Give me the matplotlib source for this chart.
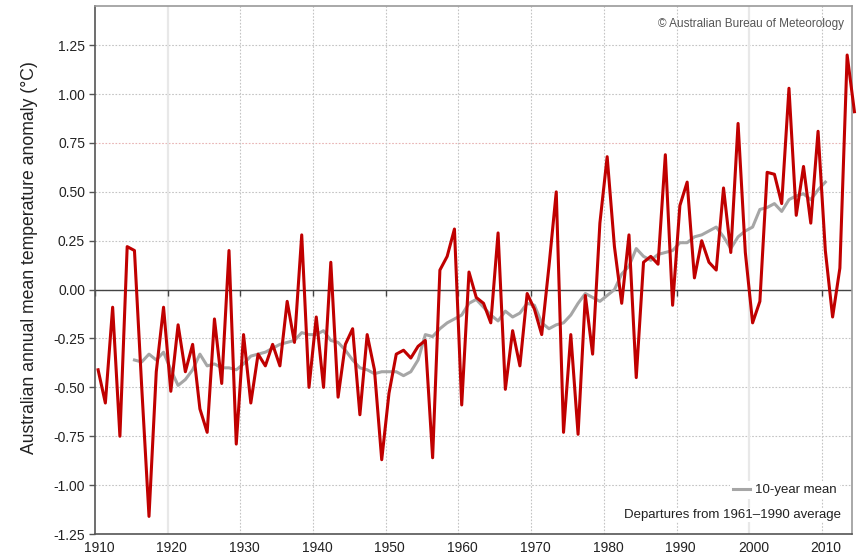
import numpy as np
import matplotlib
matplotlib.use('Agg')
import matplotlib.pyplot as plt
import matplotlib.transforms as mtransforms

plt.rcParams['font.family'] = ['Liberation Sans', 'DejaVu Sans']

# Annual anomaly, 1910-2014 (deg C, vs 1961-1990)
years = np.arange(1910, 2015)
anomaly = [
    -0.41, -0.58, -0.09, -0.75, 0.22, 0.20, -0.50, -1.16, -0.42, -0.09,   # 1910s
    -0.52, -0.18, -0.42, -0.28, -0.61, -0.73, -0.15, -0.48, 0.20, -0.79,  # 1920s
    -0.23, -0.58, -0.33, -0.39, -0.28, -0.39, -0.06, -0.27, 0.28, -0.50,  # 1930s
    -0.14, -0.50, 0.14, -0.55, -0.28, -0.20, -0.64, -0.23, -0.41, -0.87,  # 1940s
    -0.53, -0.33, -0.31, -0.35, -0.29, -0.26, -0.86, 0.10, 0.17, 0.31,   # 1950s
    -0.59, 0.09, -0.04, -0.07, -0.17, 0.29, -0.51, -0.21, -0.39, -0.02,   # 1960s
    -0.10, -0.23, 0.12, 0.50, -0.73, -0.23, -0.74, -0.03, -0.33, 0.34,   # 1970s
    0.68, 0.22, -0.07, 0.28, -0.45, 0.14, 0.17, 0.13, 0.69, -0.08,       # 1980s
    0.43, 0.55, 0.06, 0.25, 0.14, 0.10, 0.52, 0.19, 0.85, 0.19,          # 1990s
    -0.17, -0.06, 0.60, 0.59, 0.44, 1.03, 0.38, 0.63, 0.34, 0.81,        # 2000s
    0.20, -0.14, 0.11, 1.20, 0.91,                                       # 2010s
]

# 10-year running mean, centred, 1915-2010
mean_years = np.arange(1915, 2011)
mean10 = [
    -0.36, -0.37, -0.33, -0.36, -0.32,
    -0.41, -0.49, -0.46, -0.41, -0.33, -0.39, -0.38, -0.40, -0.40, -0.41,
    -0.38, -0.34, -0.33, -0.32, -0.30, -0.28, -0.27, -0.26, -0.22, -0.23,
    -0.23, -0.21, -0.26, -0.27, -0.31, -0.36, -0.40, -0.41, -0.43, -0.42,
    -0.42, -0.42, -0.44, -0.42, -0.36, -0.23, -0.24, -0.20, -0.17, -0.15,
    -0.13, -0.07, -0.05, -0.09, -0.13, -0.16, -0.11, -0.14, -0.12, -0.07,
    -0.08, -0.17, -0.20, -0.18, -0.17, -0.13, -0.07, -0.02, -0.04, -0.06,
    -0.03, 0.00, 0.08, 0.12, 0.21, 0.17, 0.15, 0.18, 0.19, 0.20,
    0.24, 0.24, 0.27, 0.28, 0.30, 0.32, 0.27, 0.21, 0.27, 0.30,
    0.32, 0.41, 0.42, 0.44, 0.40, 0.46, 0.48, 0.49, 0.46, 0.51,
    0.55,
]

yticks = [-1.25, -1.0, -0.75, -0.5, -0.25, 0.0, 0.25, 0.5, 0.75, 1.0, 1.25]
xticks = np.arange(1910, 2020, 10)

fig = plt.figure(figsize=(8.62, 5.58), dpi=100)
ax = fig.add_axes([0.110, 0.043, 0.878, 0.946])

ax.set_xlim(1910, 2014.07)
ax.set_ylim(-1.25, 1.45)

# grid
for y in yticks:
    col = '#e8b4b4' if y == 0.75 else '#c4c4c4'
    ax.axhline(y, color=col, lw=0.8, ls=(0, (1.5, 1.5)), zorder=0)
for x in xticks[1:]:
    if x in (1920, 2000):
        ax.axvline(x, color='#e8e8e8', lw=1.6, zorder=0)
    else:
        ax.axvline(x, color='#c4c4c4', lw=0.8, ls=(0, (1.5, 1.5)), zorder=0)

ax.axhline(0, color='#444444', lw=1.0, zorder=1)
# small decade ticks hanging below the zero line
ax.plot(xticks, np.zeros(len(xticks)), ls='none', marker=3, ms=4,
        mew=1.0, color='#444444', zorder=1)

ax.plot(mean_years + 0.45, mean10, color='#a6a6a6', lw=2.2,
        solid_joinstyle='round', zorder=2, label='10-year mean')
ax.plot(years + 0.45, anomaly, color='#c00000', lw=2.2,
        solid_joinstyle='round', zorder=3, clip_on=False)

ax.set_yticks(yticks)
ax.set_yticklabels([f'{v:.2f}' for v in yticks])
ax.set_xticks(xticks)
ax.set_xticklabels([str(x) for x in xticks])
ax.tick_params(axis='y', direction='out', length=4, width=1, color='#555555',
               labelsize=10, labelcolor='#222222', pad=3)
ax.tick_params(axis='x', length=0, labelsize=10, labelcolor='#222222', pad=5)
offset = mtransforms.ScaledTranslation(4 / 100, 0, fig.dpi_scale_trans)
for lab in ax.get_xticklabels():
    lab.set_transform(lab.get_transform() + offset)

for side in ['left', 'bottom']:
    ax.spines[side].set_color('#555555')
    ax.spines[side].set_linewidth(1.2)
for side in ['top', 'right']:
    ax.spines[side].set_color('#999999')
    ax.spines[side].set_linewidth(1.2)

ax.set_ylabel('Australian annual mean temperature anomaly (°C)',
              fontsize=12.7, color='#222222')
ax.yaxis.set_label_coords(-0.075, 0.523)

ax.text(0.99, 0.978, '© Australian Bureau of Meteorology', transform=ax.transAxes,
        ha='right', va='top', fontsize=8.5, color='#555555')
ax.text(0.986, 0.036, 'Departures from 1961–1990 average', transform=ax.transAxes,
        ha='right', va='center', fontsize=9.5, color='#222222',
        bbox=dict(facecolor='white', edgecolor='none', pad=1))

leg = ax.legend(loc='center right', bbox_to_anchor=(0.993, 0.083), frameon=True,
                fontsize=9.5, handlelength=1.3, handletextpad=0.4,
                borderpad=0.2, labelcolor='#222222')
leg.get_frame().set_facecolor('white')
leg.get_frame().set_edgecolor('none')
leg.get_frame().set_alpha(1)

fig.savefig('out.png', dpi=100)
